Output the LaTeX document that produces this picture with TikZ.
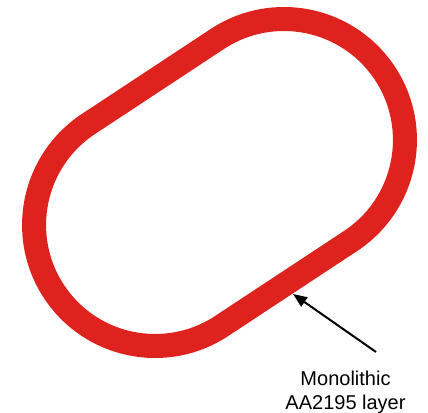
\documentclass[tikz,border=0pt]{standalone}
\usepackage{fontspec}
\setmainfont{Liberation Sans}
\usetikzlibrary{arrows.meta,positioning}
\definecolor{ringred}{RGB}{222,34,30}

\begin{document}
\begin{tikzpicture}[x=1pt, y=1pt,
  ring/.style={draw=ringred, line width=24pt},
  arr/.style={-{Triangle[length=14pt, width=11pt]}, line width=2pt, black},
  lbl/.style={align=center, inner sep=0pt, font=\fontsize{20}{24}\selectfont}
]
\useasboundingbox (0,0) rectangle (428,412);

% stadium-shaped layer
\begin{scope}[shift={(219.5,229.5)}, rotate=33.4]
  \draw[ring] (-77.2,-121) -- (77.2,-121)
    arc[start angle=-90, end angle=90, radius=121]
    -- (-77.2,121)
    arc[start angle=90, end angle=270, radius=121] -- cycle;
\end{scope}

\node[lbl] (layer) at (345.5,20) {Monolithic\\AA2195 layer};
\coordinate (tail) at (376,60);
\coordinate (tip) at (293,118);
\draw[arr] (tail) -- (tip);
\end{tikzpicture}
\end{document}
